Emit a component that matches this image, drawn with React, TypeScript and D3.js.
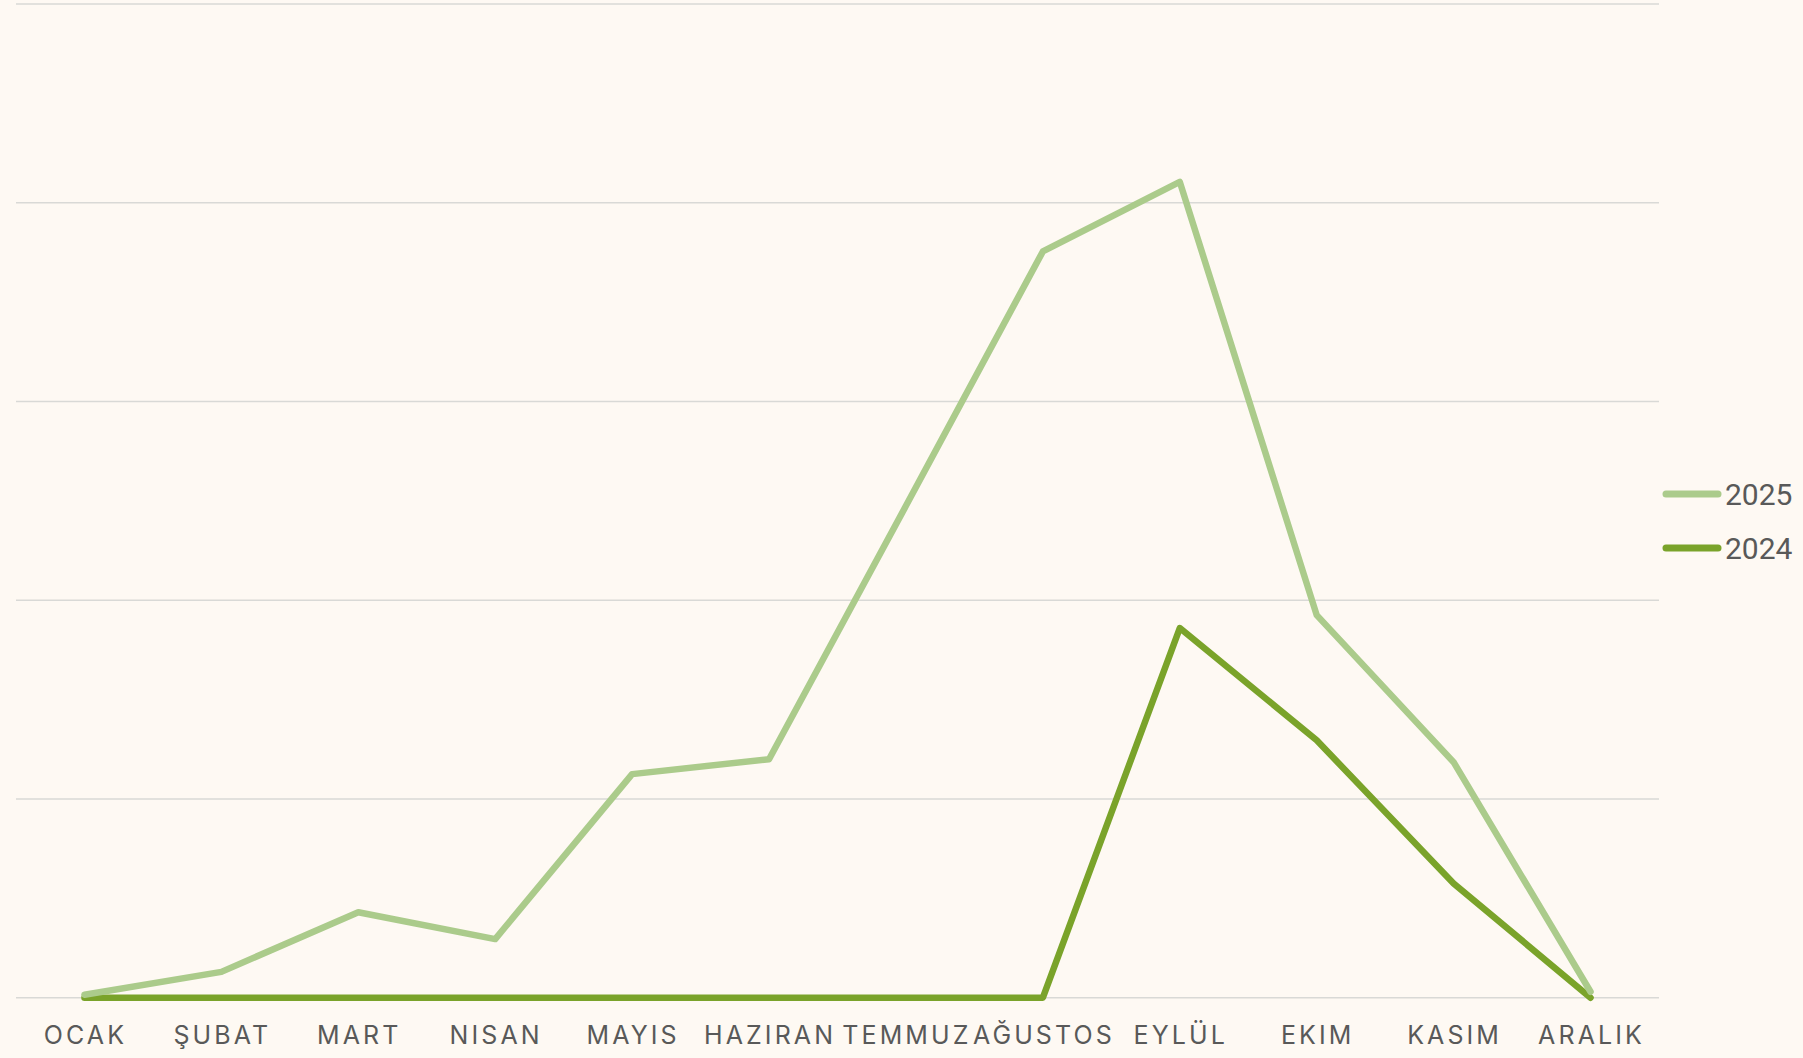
import React from "react";
import * as d3 from "d3";

const months = ["OCAK", "ŞUBAT", "MART", "NISAN", "MAYIS", "HAZIRAN", "TEMMUZ", "AĞUSTOS", "EYLÜL", "EKIM", "KASIM", "ARALIK"];
const series2025 = [0.3, 2.6, 8.6, 5.9, 22.5, 24.0, 49.5, 75.1, 82.1, 38.5, 23.7, 0.6];
const series2024 = [0, 0, 0, 0, 0, 0, 0, 0, 37.2, 25.9, 11.5, 0];
const yTicks = [0, 20, 40, 60, 80, 100];
const seriesNames = ["2025", "2024"];
const seriesColors = ["#abcb8b", "#7aa32a"];

const W = 1803;
const H = 1058;
const left = 16;
const right = 1659;
const top = 4;
const bottom = 997.7;

export default function App() {
  React.useEffect(() => {
    document.body.style.margin = "0";
    document.body.style.background = "#fef9f3";
  }, []);
  const x = d3.scaleBand<string>().domain(months).range([left, right]);
  const y = d3.scaleLinear().domain([0, 100]).range([bottom, top]);
  const cx = (m: string) => (x(m) as number) + x.bandwidth() / 2;
  const line = d3
    .line<number>()
    .x((_, i) => cx(months[i]))
    .y((d) => y(d));
  const data = [series2025, series2024];
  return (
    <svg width={W} height={H} style={{ display: "block", background: "#fef9f3" }}>
      <rect x={0} y={0} width={W} height={H} fill="#fef9f3" />
      {yTicks.map((t) => (
        <line key={t} x1={left} x2={right} y1={y(t)} y2={y(t)} stroke="#d9d9d6" strokeWidth={1.6} />
      ))}
      {[1, 0].map((si) => (
        <path
          key={si}
          d={line(data[si]) || ""}
          fill="none"
          stroke={seriesColors[si]}
          strokeWidth={6.5}
          strokeLinejoin="round"
          strokeLinecap="round"
        />
      ))}
      {months.map((m) => (
        <text
          key={m}
          x={cx(m) + 1}
          y={1044}
          textAnchor="middle"
          fontFamily="Inter, 'Noto Sans', sans-serif"
          fontSize={25}
          letterSpacing={3.1}
          fill="#595959"
        >
          {m}
        </text>
      ))}
      {seriesNames.map((n, i) => (
        <g key={n} transform={`translate(0, ${494 + i * 54})`}>
          <line x1={1666} x2={1718} y1={0} y2={0} stroke={seriesColors[i]} strokeWidth={7} strokeLinecap="round" />
          <text x={1725} y={10.5} fontFamily="Roboto, 'Liberation Sans', sans-serif" fontSize={30} fill="#595959">
            {n}
          </text>
        </g>
      ))}
    </svg>
  );
}
